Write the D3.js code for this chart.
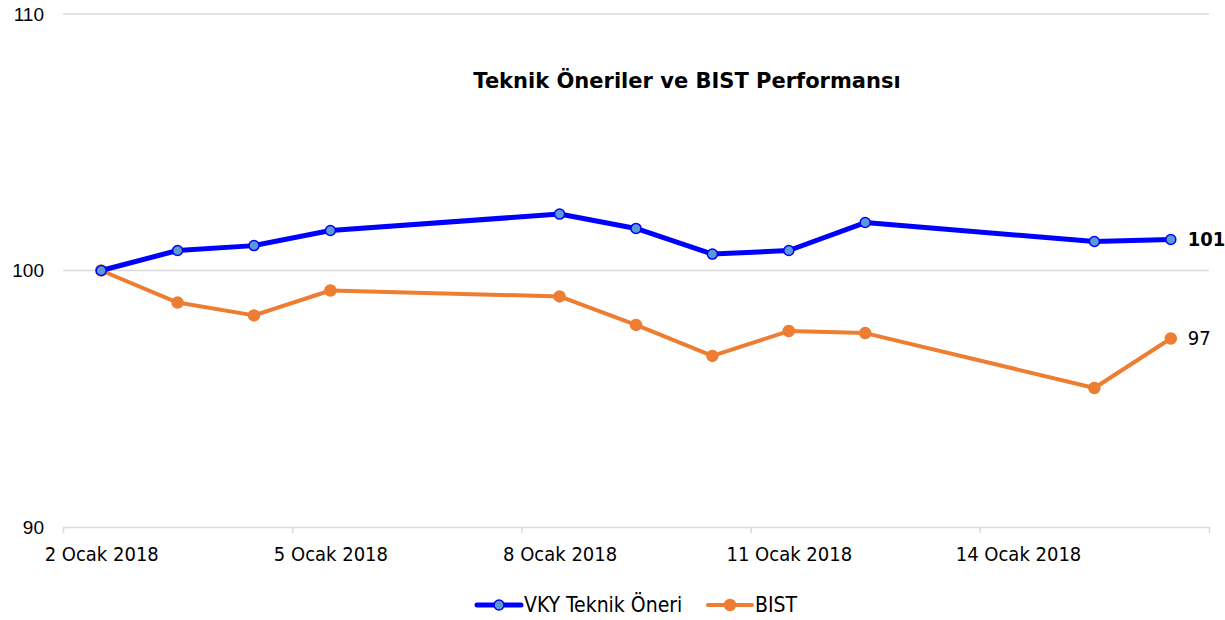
<!DOCTYPE html>
<html>
<head>
<meta charset="utf-8">
<script src="https://cdn.jsdelivr.net/npm/d3@7"></script>
<style>
  body { margin: 0; background: #fff; }
  svg text { font-family: "DejaVu Sans Condensed", "DejaVu Sans", sans-serif; }
</style>
</head>
<body>
<div id="chart"></div>
<script>
// data
var dates = ["2018-01-02", "2018-01-03", "2018-01-04", "2018-01-05", "2018-01-08",
             "2018-01-09", "2018-01-10", "2018-01-11", "2018-01-12", "2018-01-15", "2018-01-16"];
var vkyValues = [100, 100.78, 100.97, 101.56, 102.2, 101.64, 100.64, 100.78, 101.87, 101.13, 101.21];
var bistValues = [100, 98.75, 98.25, 99.22, 98.99, 97.88, 96.67, 97.64, 97.56, 95.42, 97.35];
var yTicks = [90, 100, 110];
var xTickDates = ["2018-01-02", "2018-01-05", "2018-01-08", "2018-01-11", "2018-01-14", "2018-01-17"];
var seriesNames = ["VKY Teknik Öneri", "BIST"];
var endLabels = ["101", "97"];

var totalWidth = 1225,
    totalHeight = 620;

var margin = {top: 14, right: 16, bottom: 93, left: 63};
var width = totalWidth - margin.left - margin.right,
    height = totalHeight - margin.top - margin.bottom;

var parseDate = d3.timeParse("%Y-%m-%d");
var aylar = ["Ocak", "Şubat", "Mart", "Nisan", "Mayıs", "Haziran", "Temmuz",
             "Ağustos", "Eylül", "Ekim", "Kasım", "Aralık"];

var xScale = d3.scaleTime()
    .domain([parseDate("2018-01-02"), parseDate("2018-01-17")])
    .range([0, width]);
var yScale = d3.scaleLinear()
    .domain([90, 110])
    .range([height, 0]);

// points (and date labels) sit in the middle of their day, like the original
var midDay = function(s) { return d3.timeHour.offset(parseDate(s), 12); };
var halfDay = xScale(midDay("2018-01-02")) - xScale(parseDate("2018-01-02"));

var series = [
    {name: seriesNames[0], values: vkyValues, color: "#0000ff", fill: "#5b9bd5", width: 5, r: 5, label: endLabels[0], bold: true},
    {name: seriesNames[1], values: bistValues, color: "#ed7d31", fill: "#ed7d31", width: 4, r: 5.5, label: endLabels[1], bold: false}
];

var svg = d3.select("#chart").append("svg")
    .attr("width", totalWidth)
    .attr("height", totalHeight);

var g = svg.append("g")
    .attr("transform", "translate(" + margin.left + "," + margin.top + ")");

// gridlines
g.selectAll(".grid").data(yTicks.filter(function(d) { return d !== 90; }))
  .enter().append("line")
    .attr("x1", 0).attr("x2", width)
    .attr("y1", function(d) { return yScale(d); })
    .attr("y2", function(d) { return yScale(d); })
    .attr("stroke", "#d9d9d9").attr("stroke-width", 1.5);

// y labels
g.selectAll(".ylab").data(yTicks)
  .enter().append("text")
    .attr("x", -19)
    .attr("y", function(d) { return yScale(d); })
    .attr("dy", "0.35em")
    .attr("text-anchor", "end")
    .style("font-family", "'Liberation Sans', Arial, sans-serif")
    .style("font-size", "19px")
    .attr("fill", "#000")
    .text(function(d) { return d; });

// x axis
var xAxis = d3.axisBottom(xScale)
    .tickValues(xTickDates.map(parseDate))
    .tickSize(6)
    .tickSizeOuter(0)
    .tickPadding(14)
    .tickFormat(function(d) { return d.getDate() + " " + aylar[d.getMonth()] + " " + d.getFullYear(); });

var xg = g.append("g")
    .attr("transform", "translate(0," + height + ")")
    .call(xAxis);
xg.select(".domain").attr("stroke", "#d9d9d9").attr("stroke-width", 1.5);
xg.selectAll(".tick line").attr("stroke", "#d9d9d9").attr("stroke-width", 1.5);
xg.selectAll(".tick text")
    .attr("x", halfDay)
    .style("font-size", "20px")
    .attr("fill", "#000");
xg.selectAll(".tick").filter(function(d, i) { return i === xTickDates.length - 1; })
    .select("text").remove();

var line = d3.line()
    .x(function(d, i) { return xScale(midDay(dates[i])); })
    .y(function(d) { return yScale(d); });

series.slice().reverse().forEach(function(s) {
    g.append("path")
        .datum(s.values)
        .attr("d", line)
        .attr("fill", "none")
        .attr("stroke", s.color)
        .attr("stroke-width", s.width)
        .attr("stroke-linejoin", "round");
    g.selectAll(null).data(s.values)
      .enter().append("circle")
        .attr("cx", function(d, i) { return xScale(midDay(dates[i])); })
        .attr("cy", function(d) { return yScale(d); })
        .attr("r", s.r)
        .attr("fill", s.fill)
        .attr("stroke", s.color)
        .attr("stroke-width", 1.5);
    var last = s.values.length - 1;
    g.append("text")
        .attr("x", xScale(midDay(dates[last])) + 17)
        .attr("y", yScale(s.values[last]))
        .attr("dy", "0.35em")
        .style("font-size", "20px")
        .style("font-weight", s.bold ? "bold" : "normal")
        .attr("fill", "#000")
        .text(s.label);
});

// title
svg.append("text")
    .attr("x", 687)
    .attr("y", 81)
    .attr("dy", "0.35em")
    .attr("text-anchor", "middle")
    .style("font-family", "'DejaVu Sans', sans-serif")
    .style("font-size", "21px")
    .style("font-weight", "bold")
    .attr("fill", "#000")
    .text("Teknik Öneriler ve BIST Performansı");

// legend
var legend = svg.append("g").attr("transform", "translate(0,605)");
var legendX = [477, 708];
series.forEach(function(s, i) {
    var lg = legend.append("g").attr("transform", "translate(" + legendX[i] + ",0)");
    lg.append("line")
        .attr("x1", 0).attr("x2", 44)
        .attr("stroke", s.color)
        .attr("stroke-width", s.width)
        .attr("stroke-linecap", "round");
    lg.append("circle")
        .attr("cx", 22).attr("r", s.r)
        .attr("fill", s.fill)
        .attr("stroke", s.color)
        .attr("stroke-width", 1.5);
    lg.append("text")
        .attr("x", 47)
        .attr("dy", "0.35em")
        .style("font-size", "21px")
        .attr("fill", "#000")
        .text(s.name);
});
</script>
</body>
</html>
